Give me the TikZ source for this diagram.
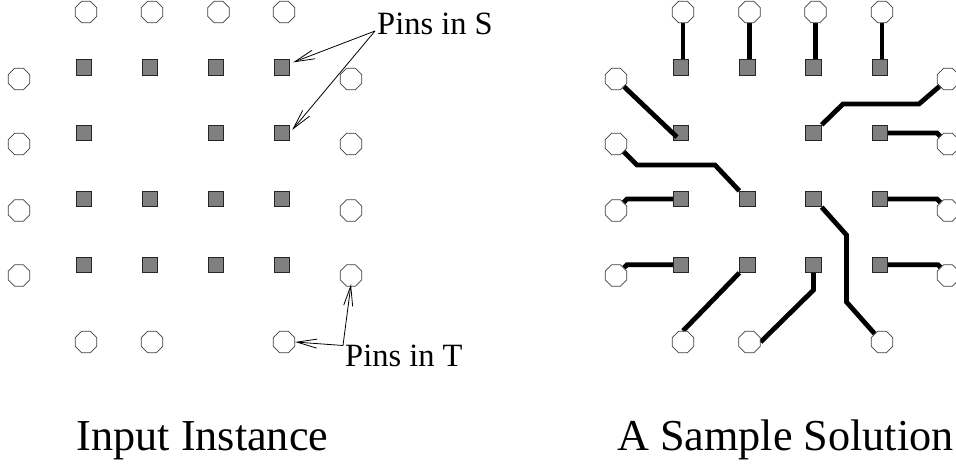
\documentclass[tikz,border=0pt]{standalone}
\usepackage{fontspec}
\setmainfont{Liberation Serif}
\usetikzlibrary{shapes.geometric,arrows.meta,calc}
\definecolor{sqfill}{RGB}{128,128,128}
\pgfdeclarelayer{wirelayer}
\pgfdeclarelayer{toplayer}
\pgfsetlayers{main,wirelayer,toplayer}
\tikzset{
  sq/.style={draw=black!85, fill=sqfill, minimum size=15.5pt, inner sep=0pt, line width=0.8pt},
  oct/.style={regular polygon, regular polygon sides=8, draw=black!75, fill=white,
    minimum size=23.2pt, inner sep=0pt, line width=0.8pt},
  wire/.style={line width=4.8pt, black},
  arr/.style={-{Straight Barb[length=20pt,width=9pt]}, line width=0.8pt},
  lbl/.style={font=\fontsize{32.5}{39}\selectfont, inner sep=0pt},
  ttl/.style={font=\fontsize{44.2}{53}\selectfont, inner sep=0pt}
}
\begin{document}
\begin{tikzpicture}[x=1pt,y=-1pt]
\useasboundingbox (0,0) rectangle (956,465);
% ---------- left panel ----------
\foreach \n/\x/\y in {11/84/67.5,12/150/67.5,13/216/67.5,14/282/67.5,
  21/84/133,23/216/133,24/282/133,
  31/84/199,32/150/199,33/216/199,34/282/199,
  41/84/264.7,42/150/264.7,43/216/264.7,44/282/264.7}
  \node[sq] (ls\n) at (\x,\y) {};
\foreach \n/\x/\y in {t1/86/12,t2/152/12,t3/218.5/12,t4/284/12,
  l1/19/79,l2/19/144,l3/19/210.5,l4/19/275.5,
  r1/351/79,r2/351/144,r3/351/210.5,r4/351/275.5,
  b1/86/342,b2/152/342,b4/284/342}
  \node[oct] (lo\n) at (\x,\y) {};
\node[lbl, anchor=base west] (pinsS) at (377,35) {Pins in S};
\coordinate (sS) at (375,31);
\draw[arr] (sS) -- ([xshift=3pt,yshift=-3pt]ls14.north east);
\draw[arr] (sS) -- ([xshift=2pt,yshift=3pt]ls24.east);
\node[lbl, anchor=base west] (pinsT) at (345,366.7) {Pins in T};
\coordinate (sT) at (343,345.5);
\draw[arr] (sT) -- (lob4.east);
\draw[arr] (sT) -- ([yshift=2.5pt]lor4.south);
\node[ttl, anchor=base] (tin) at (202.5,450) {Input Instance};
% ---------- right panel ----------
\foreach \n/\x/\y in {11/681/67.5,12/747.5/67.5,13/813.5/67.5,14/880/67.5,
  21/681/133,23/813.5/133,24/880/133,
  31/681/199,32/747.5/199,33/813.5/199,34/880/199,
  41/681/264.7,42/747.5/264.7,43/813.5/264.7,44/880/264.7}
  \node[sq] (rs\n) at (\x,\y) {};
\begin{pgfonlayer}{toplayer}
\foreach \n/\x/\y in {t1/683/12,t2/749.5/12,t3/815.5/12,t4/882/12,
  l1/616/79,l2/616/144,l3/616/210.5,l4/616/275.5,
  r1/948/79,r2/948/144,r3/948/210.5,r4/948/275.5,
  b1/683/342,b2/749.5/342,b4/882/342}
  \node[oct] (ro\n) at (\x,\y) {};
\end{pgfonlayer}
\begin{pgfonlayer}{wirelayer}
\draw[wire] (rot1) -- (rot1 |- rs11.north);
\draw[wire] (rot2) -- (rot2 |- rs12.north);
\draw[wire] (rot3) -- (rot3 |- rs13.north);
\draw[wire] (rot4) -- (rot4 |- rs14.north);
\draw[wire] (rol1) -- ($(rs21.center)!0.5!(rs21.south west)$);
\draw[wire] (rol2) -- (637,165) -- (715,165) -- (rs32.north west);
\draw[wire] (rol3) -- (627,199) -- (rs31.west);
\draw[wire] (rol4) -- (627,264.7) -- (rs41.west);
\draw[wire] (rs23.north east) -- (843,104) -- (919,104) -- (ror1);
\draw[wire] (rs24.east) -- (937,133) -- (ror2);
\draw[wire] (rs34.east) -- (937,199) -- (ror3);
\draw[wire] (rs44.east) -- (938,264.7) -- (ror4);
\draw[wire] (rs42.south west) -- (rob1.north);
\draw[wire] (rs43.south) -- (813.5,290) -- (rob2.east);
\draw[wire] (rs33.south east) -- (846.5,235) -- (846.5,302) -- (rob4);
\end{pgfonlayer}
\node[ttl, anchor=base] (tsol) at (785.5,450) {A Sample Solution};
\end{tikzpicture}
\end{document}
